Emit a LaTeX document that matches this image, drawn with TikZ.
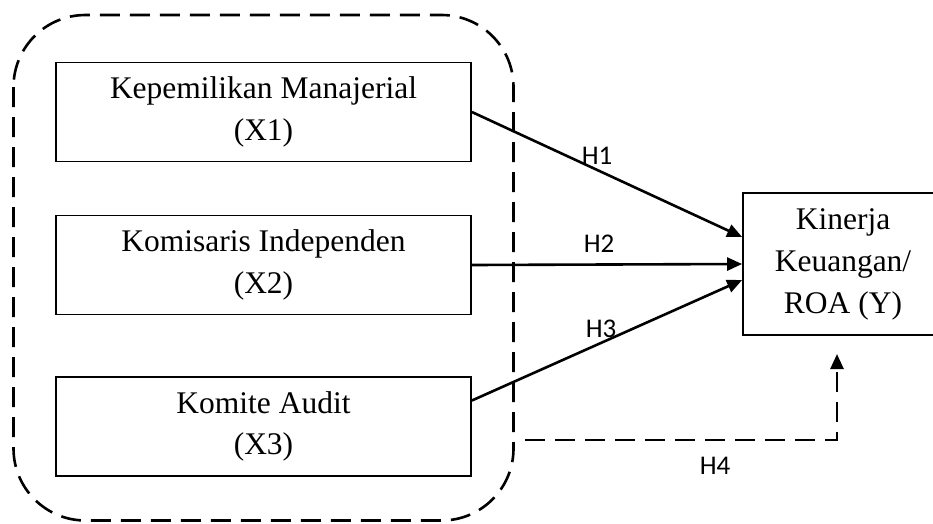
\documentclass[tikz,border=0pt]{standalone}
\usepackage{fontspec}
\setmainfont{Liberation Serif}
\newfontfamily\lblfont{Carlito}
\usetikzlibrary{arrows.meta}
\tikzset{
  varbox/.style={draw, line width=1.8pt, minimum width=415pt, minimum height=99pt, inner sep=0pt, align=center, font=\fontsize{31.5}{41.5}\selectfont},
  ybox/.style={draw, line width=1.8pt, minimum width=200pt, minimum height=142pt, inner sep=0pt, align=center, font=\fontsize{31.5}{42}\selectfont},
  hlabel/.style={font=\lblfont\fontsize{27}{30}\selectfont, inner sep=0pt},
  grpline/.style={dash pattern=on 20pt off 10pt, line width=2.6pt, rounded corners=72pt},
  hyparrow/.style={line width=2.6pt, -{Triangle[length=15pt,width=13pt]}},
  hypdash/.style={line width=2.6pt, dash pattern=on 20pt off 10pt, -{Triangle[length=15pt,width=13pt]}}
}
\begin{document}
\begin{tikzpicture}[x=1pt,y=-1pt]
\useasboundingbox (0,0) rectangle (933,523);
\clip (0,0) rectangle (933,523);
\fill[white] (0,0) rectangle (933,523);
% group outline
\draw[grpline] (13.5,15) rectangle (513.5,520.5);
% nodes
\node[varbox] (x1) at (263.5,112) {Kepemilikan Manajerial\\(X1)};
\node[varbox] (x2) at (263.5,265) {Komisaris Independen\\(X2)};
\node[varbox] (x3) at (263.5,426.5) {Komite Audit\\(X3)};
\node[ybox] (y) at (843,264) {Kinerja\\Keuangan/\\ROA (Y)};
% arrows
\draw[hyparrow] (x1.east) -- ([yshift=27pt]y.west);
\draw[hyparrow] (x2.east) -- (y.west);
\draw[hyparrow] ([yshift=26pt]x3.east) -- ([yshift=-16pt]y.west);
\coordinate (h4s) at (525,440);
\coordinate (h4e) at (837,354);
\draw[hypdash] (h4s) -| (h4e);
% labels
\node[hlabel] (l1) at (597,156) {H1};
\node[hlabel] (l2) at (599,244) {H2};
\node[hlabel] (l3) at (601,329) {H3};
\node[hlabel] (l4) at (715,466) {H4};
\end{tikzpicture}
\end{document}
